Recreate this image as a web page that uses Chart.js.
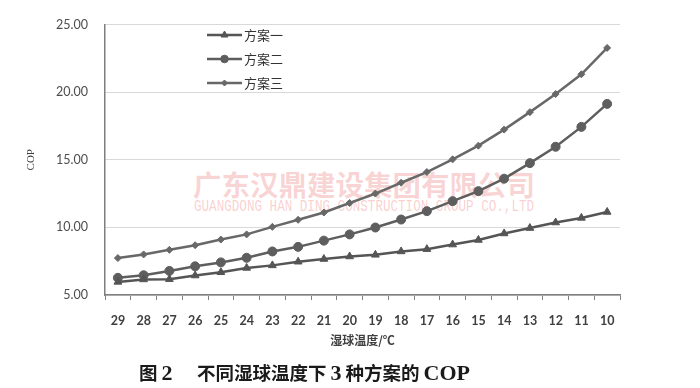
<!DOCTYPE html>
<html>
<head>
<meta charset="utf-8">
<script src="https://cdn.jsdelivr.net/npm/chart.js@4/dist/chart.umd.min.js"></script>
<style>
  html, body { margin: 0; padding: 0; background: #fff; }
  #wrap { position: relative; width: 700px; height: 388px; overflow: hidden; }
  #wm-cn { position: absolute; left: 193px; top: 163px; font: bold 28.5px "Noto Sans CJK SC", serif; color: rgba(238, 120, 120, 0.32); white-space: nowrap; }
  #wm-en { position: absolute; left: 194px; top: 197px; font: 12.6px "Liberation Mono", monospace; color: rgba(238, 120, 120, 0.35); white-space: nowrap; transform: scaleY(1.35); transform-origin: top left; }
  .cap { position: absolute; top: 359px; color: #1a1a1a; white-space: nowrap; line-height: 28px; }
  .cn { font: bold 18.5px "Noto Sans CJK SC", sans-serif; }
  .lt { font: bold 22px "Liberation Serif", serif; }
  canvas { position: absolute; left: 0; top: 0; }
</style>
</head>
<body>
<div id="wrap">
  <div id="wm-cn">广东汉鼎建设集团有限公司</div>
  <div id="wm-en">GUANGDONG HAN DING CONSTRUCTION GROUP CO.,LTD</div>
  <canvas id="canvas" width="700" height="388"></canvas>
  <div class="cap" style="left:139px"><span class="cn">图</span> <span class="lt">2</span></div>
  <div class="cap" style="left:197px"><span class="cn">不同湿球温度下</span> <span class="lt">3</span> <span class="cn">种方案的</span> <span class="lt">COP</span></div>
</div>
<script>
// wet bulb temperature categories
var temps = ['29', '28', '27', '26', '25', '24', '23', '22', '21', '20', '19', '18', '17', '16', '15', '14', '13', '12', '11', '10'];
var planNames = ['方案一', '方案二', '方案三'];
var plan1 = [5.97, 6.15, 6.17, 6.44, 6.68, 7.00, 7.19, 7.46, 7.66, 7.85, 7.97, 8.22, 8.39, 8.73, 9.07, 9.55, 9.95, 10.36, 10.70, 11.14];
var plan2 = [6.27, 6.46, 6.78, 7.12, 7.41, 7.75, 8.22, 8.56, 9.02, 9.48, 9.99, 10.58, 11.20, 11.94, 12.68, 13.60, 14.75, 15.96, 17.43, 19.13];
var plan3 = [7.73, 8.00, 8.34, 8.68, 9.10, 9.48, 10.04, 10.56, 11.10, 11.80, 12.50, 13.30, 14.09, 15.03, 16.04, 17.23, 18.52, 19.86, 21.32, 23.27];
var yTicks = [5, 10, 15, 20, 25];

var lineColors = ['#555555', '#5e5e5e', '#686868'];
var markers = ['triangle', 'circle', 'rectRot'];
var markerSizes = [4.5, 4.5, 3.5];
var legendSizes = [4, 3.8, 3];

function makeSet(i, values) {
  return {
    label: planNames[i],
    data: values,
    borderColor: lineColors[i],
    backgroundColor: lineColors[i],
    borderWidth: 2.5,
    pointStyle: markers[i],
    pointRadius: markerSizes[i],
    pointBorderWidth: 1,
    pointBorderColor: lineColors[i],
    pointBackgroundColor: lineColors[i],
    tension: 0,
    fill: false
  };
}

// legend drawn inside the plot: short line with marker through it, then the name
var insideLegend = {
  id: 'insideLegend',
  afterDatasetsDraw: function (chart) {
    var ctx = chart.ctx;
    var x0 = 207, x1 = 242, rows = [35, 59, 83];
    chart.data.datasets.forEach(function (ds, i) {
      var y = rows[i];
      ctx.save();
      ctx.strokeStyle = ds.borderColor;
      ctx.fillStyle = ds.borderColor;
      ctx.lineWidth = 2.5;
      ctx.beginPath();
      ctx.moveTo(x0, y);
      ctx.lineTo(x1, y);
      ctx.stroke();
      ctx.lineWidth = 1;
      Chart.helpers.drawPoint(ctx, {
        pointStyle: ds.pointStyle,
        radius: legendSizes[i],
        borderWidth: 1
      }, (x0 + x1) / 2, y);
      ctx.fillStyle = '#333';
      ctx.font = '13px "Noto Sans CJK SC", sans-serif';
      ctx.textBaseline = 'middle';
      ctx.textAlign = 'left';
      ctx.fillText(ds.label, x1 + 2, y);
      ctx.restore();
    });
  }
};

var ctx = document.getElementById('canvas');
var chart = new Chart(ctx, {
  type: 'line',
  data: {
    labels: temps,
    datasets: [makeSet(0, plan1), makeSet(1, plan2), makeSet(2, plan3)]
  },
  plugins: [insideLegend],
  options: {
    responsive: false,
    animation: false,
    layout: { padding: { left: 0, right: 80, top: 22, bottom: 33 } },
    plugins: {
      legend: { display: false },
      tooltip: { enabled: false }
    },
    scales: {
      x: {
        offset: true,
        afterFit: function (scale) { scale.height = 60; },
        grid: {
          display: true,
          offset: true,
          drawOnChartArea: false,
          drawTicks: true,
          tickLength: 5,
          color: '#7f7f7f'
        },
        border: { display: true, color: '#7f7f7f', width: 1.5 },
        ticks: {
          color: '#404040',
          font: { family: 'Lato', size: 12.5, weight: 'bold' },
          padding: 13,
          maxRotation: 0,
          autoSkip: false
        },
        title: {
          display: true,
          text: '湿球温度/℃',
          color: '#404040',
          font: { family: '"Noto Sans CJK SC"', size: 12, weight: 'bold' },
          padding: { top: 0, bottom: 7 }
        }
      },
      y: {
        min: yTicks[0],
        max: yTicks[yTicks.length - 1],
        afterFit: function (scale) { scale.width = 105; },
        afterBuildTicks: function (scale) {
          scale.ticks = yTicks.map(function (v) { return { value: v }; });
        },
        grid: { color: '#d9d9d9', drawTicks: false, lineWidth: 1 },
        border: { display: true, color: '#7f7f7f', width: 1.5 },
        ticks: {
          color: '#4d4d4d',
          font: { family: 'Lato', size: 12.5 },
          padding: 17,
          callback: function (v) { return Number(v).toFixed(2); }
        },
        title: {
          display: true,
          text: 'COP',
          color: '#404040',
          font: { family: '"Liberation Serif"', size: 11 },
          padding: { top: 25, bottom: 0 }
        }
      }
    }
  }
});
</script>
</body>
</html>
